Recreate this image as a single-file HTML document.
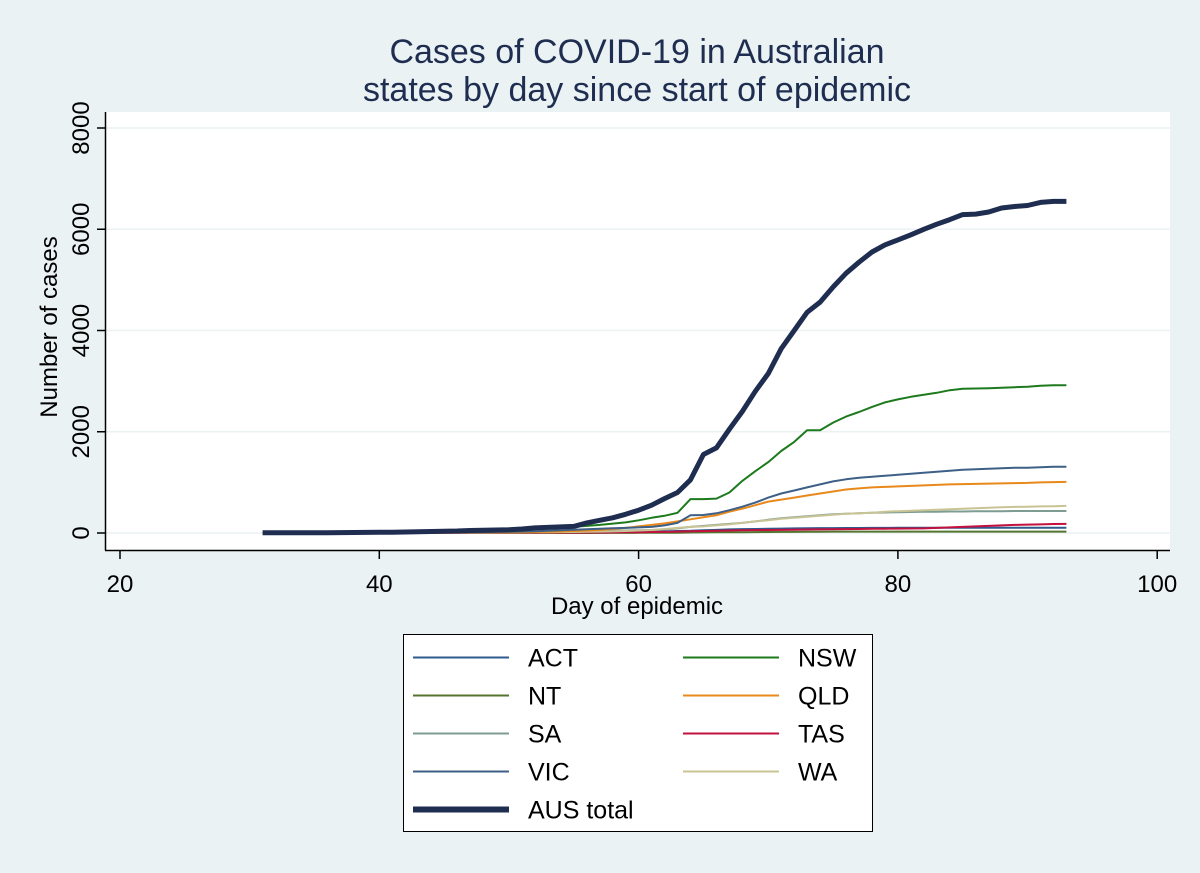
<!DOCTYPE html>
<html><head><meta charset="utf-8"><style>
html,body{margin:0;padding:0;background:#eaf2f3;}
svg{display:block;font-family:"Liberation Sans",Arial,sans-serif;}
</style></head><body>
<svg id="chart" width="1200" height="873" viewBox="0 0 1200 873">
<rect x="0" y="0" width="1200" height="873" fill="#eaf2f3"/>
<text x="637" y="63" font-size="34" text-anchor="middle" fill="#1e2d50">Cases of COVID-19 in Australian</text>
<text x="637" y="101" font-size="34" text-anchor="middle" fill="#1e2d50">states by day since start of epidemic</text>
<rect x="106" y="112" width="1064" height="438" fill="#ffffff"/>
<g id="grid"></g>
<g id="series"></g>
<line x1="105.5" y1="112" x2="105.5" y2="550.5" stroke="#000" stroke-width="1.5"/>
<line x1="105" y1="550.5" x2="1170" y2="550.5" stroke="#000" stroke-width="1.5"/>
<g id="yticks"></g>
<g id="xticks"></g>
<text transform="translate(57,327) rotate(-90)" font-size="24" text-anchor="middle" fill="#000">Number of cases</text>
<text x="637" y="614" font-size="24" text-anchor="middle" fill="#000">Day of epidemic</text>
<g>
<rect x="403.5" y="634.5" width="469" height="197" fill="#fff" stroke="#000" stroke-width="1"/>
<g id="legend"></g>
</g>
</svg>
<script>
const days = [];
for (let d = 31; d <= 93; d++) days.push(d);
const seriesNames = ["ACT","NSW","NT","QLD","SA","TAS","VIC","WA","AUS total"];
const act = [0,0,0,0,0,0,0,0,0,0, 0,0,0,0,0,0,0,0,0,0, 0,1,1,2,3,4,6,9,13,19, 23,32,39,44,53,62,71,77,80,84, 87,91,93,96,96,98,99,100,101,102, 102,103,103,103,103,103,104,104,104,105, 105,105,105];
const nsw = [3,4,4,5,6,7,8,10,14,18, 22,26,30,36,40,48,55,62,70,78, 85,95,105,115,125,140,160,185,210,250, 300,340,400,670,670,680,800,1030,1220,1400, 1620,1800,2030,2030,2180,2300,2390,2490,2580,2640, 2690,2730,2770,2820,2850,2855,2860,2870,2880,2890, 2910,2920,2920];
const nt = [0,0,0,0,0,0,0,0,0,0, 0,0,0,0,0,0,0,0,0,0, 0,0,0,0,0,0,1,1,2,3, 5,6,6,10,12,14,15,15,17,19, 21,22,26,26,27,27,27,28,28,28, 28,28,28,28,28,28,28,28,28,28, 28,28,28];
const qld = [0,0,0,0,0,1,1,2,3,5, 6,8,9,10,11,12,13,14,15,15, 17,20,25,30,40,50,60,80,100,130, 160,190,230,270,310,350,420,480,550,620, 660,700,740,780,820,860,880,900,910,920, 930,940,950,960,965,970,975,980,985,990, 1000,1005,1010];
const sa = [0,0,0,0,0,0,0,0,1,1, 2,2,3,5,6,7,8,9,10,12, 14,16,20,25,30,35,40,45,50,55, 60,70,90,120,140,160,180,200,230,260, 290,310,330,350,370,380,390,400,405,410, 415,420,420,425,425,430,430,430,435,435, 435,435,435];
const tas = [0,0,0,0,0,0,0,0,0,0, 1,1,1,1,2,2,3,3,4,5, 5,6,7,7,8,10,10,12,14,16, 20,22,28,36,40,45,50,55,58,60, 62,66,69,72,75,78,80,82,84,86, 88,90,100,110,120,130,140,150,160,165, 170,178,180];
const vic = [1,1,1,1,2,3,3,4,5,6, 8,9,10,10,11,11,15,18,21,25, 30,36,45,55,65,75,85,95,100,110, 120,150,200,350,355,390,450,520,600,700, 780,840,900,960,1020,1060,1090,1110,1130,1150, 1170,1190,1210,1230,1250,1260,1270,1280,1290,1290, 1300,1310,1310];
const wa = [0,0,0,0,0,0,0,0,1,1, 2,2,3,4,5,6,7,8,9,10, 12,14,16,18,20,24,28,32,40,50, 60,80,100,120,130,150,170,200,230,250, 280,300,320,340,360,380,390,400,420,430, 440,450,460,470,480,490,500,510,515,520, 525,530,535];
const aus = [5,5,5,5,5,6,8,10,12,14, 15,20,25,30,35,40,50,55,60,65, 80,100,110,120,130,200,250,300,370,450, 550,680,800,1050,1550,1680,2050,2400,2800,3150, 3640,4000,4360,4560,4860,5130,5350,5550,5690,5790, 5890,6000,6100,6190,6290,6300,6340,6420,6450,6470, 6530,6550,6550];
const yTicks = [0,2000,4000,6000,8000];
const xTicks = [20,40,60,80,100];

const NS = "http://www.w3.org/2000/svg";
function xs(d){ return 120 + (d - 20) * 12.965; }
function ys(v){ return 533 - v * (405/8000); }
function mk(tag, attrs, parent){
  const e = document.createElementNS(NS, tag);
  for (const k in attrs) e.setAttribute(k, attrs[k]);
  parent.appendChild(e);
  return e;
}
const grid = document.getElementById('grid');
const yt = document.getElementById('yticks');
yTicks.forEach(v => {
  const g = mk('line', {x1:106, x2:1170, y1:ys(v), y2:ys(v), stroke:'#eaf2f3', 'stroke-width':1.5}, grid);
  
  
  const t = mk('line', {x1:97, x2:105, y1:ys(v), y2:ys(v), stroke:'#000', 'stroke-width':1.5}, yt);
  
  
  const l = mk('text', {transform:'translate(' + 89 + ',' + ys(v) + ') rotate(-90)', 'font-size':24, 'text-anchor':'middle', fill:'#000'}, yt);
  l.textContent = v;
  
  
});
const xt = document.getElementById('xticks');
xTicks.forEach(v => {
  const t = mk('line', {x1:xs(v), x2:xs(v), y1:551, y2:559, stroke:'#000', 'stroke-width':1.5}, xt);
  
  
  const l = mk('text', {x:xs(v), y:592, 'font-size':24, 'text-anchor':'middle', fill:'#000'}, xt);
  l.textContent = v;
  
  
});
const seriesData = [act, nt, sa, tas, wa, qld, vic, nsw, aus];
const seriesLabels = ["ACT","NT","SA","TAS","WA","QLD","VIC","NSW","AUS total"];
const colors = {"ACT":"#2f5a8c","NSW":"#1d7a1d","NT":"#55752f","QLD":"#e8891c","SA":"#7d9c92","TAS":"#c2103f","VIC":"#3e5f86","WA":"#c8c495","AUS total":"#1e2d50"};
const sg = document.getElementById('series');
seriesData.forEach((arr, i) => {
  const name = seriesLabels[i];
  const pts = arr.map((v, j) => xs(days[j]).toFixed(1) + ',' + ys(v).toFixed(1)).join(' ');
  const p = mk('polyline', {points:pts, fill:'none', stroke:colors[name], 'stroke-width': name === 'AUS total' ? 5 : 2, 'stroke-linejoin':'round'}, sg);
  
  
});
const lg = document.getElementById('legend');
const legendOrder = [["ACT",0,0],["NSW",1,0],["NT",0,1],["QLD",1,1],["SA",0,2],["TAS",1,2],["VIC",0,3],["WA",1,3],["AUS total",0,4]];
legendOrder.forEach(([name, c, r]) => {
  const y = 657.5 + r * 38;
  const x0 = c === 0 ? 413 : 683;
  const ln = mk('line', {x1:x0, x2:x0 + 96, y1:y, y2:y, stroke:colors[name], 'stroke-width': name === 'AUS total' ? 6 : 2}, lg);
  
  
  const t = mk('text', {x:x0 + 115, y:y + 9, 'font-size':25, fill:'#000'}, lg);
  t.textContent = name;
  
  
});
</script>
</body></html>
